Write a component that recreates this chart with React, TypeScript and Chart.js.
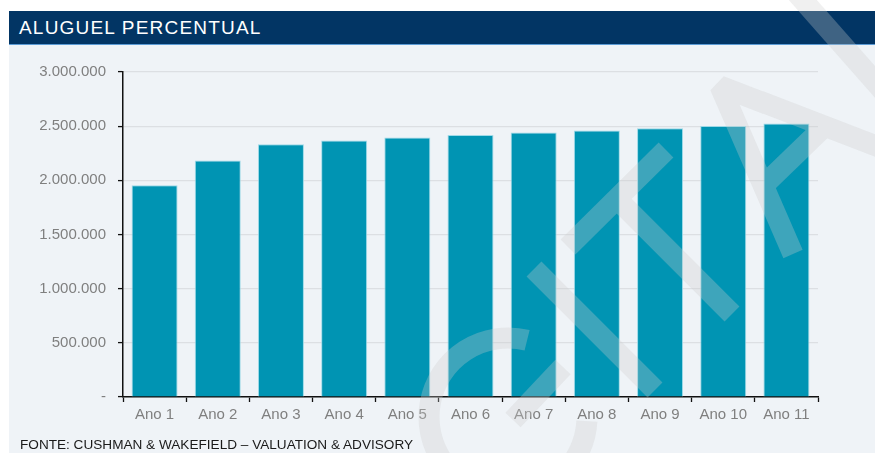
import React, { useEffect, useRef } from 'react';
import { Chart, registerables } from 'chart.js';

Chart.register(...registerables);

const title = 'ALUGUEL PERCENTUAL';
const source = 'FONTE: CUSHMAN & WAKEFIELD \u2013 VALUATION & ADVISORY';
const categories = ['Ano 1', 'Ano 2', 'Ano 3', 'Ano 4', 'Ano 5', 'Ano 6', 'Ano 7', 'Ano 8', 'Ano 9', 'Ano 10', 'Ano 11'];
const values = [1954000, 2182000, 2333000, 2367000, 2395000, 2418000, 2441000, 2459000, 2480000, 2502000, 2524000];
const yMin = 0;
const yMax = 3000000;
const yStep = 500000;

const FONT = "'Liberation Sans', Arial, Helvetica, sans-serif";

function formatTick(v: number): string {
  if (v === 0) return '-';
  return Math.round(v)
    .toString()
    .replace(/\B(?=(\d{3})+(?!\d))/g, '.');
}

export default function App() {
  const canvasRef = useRef<HTMLCanvasElement | null>(null);

  useEffect(() => {
    const canvas = canvasRef.current;
    if (!canvas) return;
    const chart = new Chart(canvas, {
      type: 'bar',
      data: {
        labels: categories,
        datasets: [
          {
            data: values,
            backgroundColor: '#0094b3',
            borderColor: 'rgba(150,215,230,0.9)',
            borderWidth: 1,
            categoryPercentage: 1,
            barPercentage: 0.728,
          },
        ],
      },
      options: {
        responsive: false,
        animation: false,
        devicePixelRatio: 1,
        layout: { padding: { left: 0, right: 57, top: 27, bottom: 0 } },
        plugins: {
          legend: { display: false },
          tooltip: { enabled: false },
          title: { display: false },
        },
        scales: {
          x: {
            afterFit: (s: any) => {
              s.height = 48;
            },
            grid: {
              offset: true,
              drawOnChartArea: false,
              tickLength: 5,
              tickColor: '#111',
              tickWidth: 1.3,
            },
            border: { display: true, color: '#111', width: 1.5 },
            ticks: {
              color: '#7f7f7f',
              font: { family: FONT, size: 15 },
              padding: 4,
              maxRotation: 0,
              autoSkip: false,
            },
          },
          y: {
            min: yMin,
            max: yMax,
            afterFit: (s: any) => {
              s.width = 114;
            },
            grid: {
              color: '#dcdfe3',
              lineWidth: 1.2,
              tickLength: 5,
              tickColor: '#111',
              tickWidth: 1.3,
            },
            border: { display: true, color: '#111', width: 1.5 },
            ticks: {
              stepSize: yStep,
              color: '#7f7f7f',
              font: { family: FONT, size: 15 },
              padding: 12,
              callback: (v: any) => formatTick(Number(v)),
            },
          },
        },
      },
    });
    return () => chart.destroy();
  }, []);

  const wm = { stroke: '#cdcdcd', strokeWidth: 21, fill: 'none' };

  return (
    <div
      style={{
        position: 'absolute',
        left: 0,
        top: 0,
        width: 875,
        height: 453,
        background: '#ffffff',
        overflow: 'hidden',
        fontFamily: FONT,
      }}
    >
      <div
        style={{
          position: 'absolute',
          left: 9,
          top: 11,
          width: 866,
          height: 33,
          background: '#023564',
          borderBottom: '1px solid #5b9bd5',
          color: '#ffffff',
          fontSize: 19,
          letterSpacing: '1.2px',
          lineHeight: '34px',
          paddingLeft: 10,
          boxSizing: 'content-box',
          whiteSpace: 'nowrap',
          overflow: 'hidden',
        }}
      >
        {title}
      </div>
      <div
        style={{
          position: 'absolute',
          left: 9,
          top: 45,
          width: 866,
          height: 408,
          background: '#eff3f7',
        }}
      >
        <canvas
          ref={canvasRef}
          width={866}
          height={400}
          style={{ position: 'absolute', left: 0, top: 0, width: 866, height: 400 }}
        />
        <div
          style={{
            position: 'absolute',
            left: 11,
            top: 392,
            fontSize: 13.6,
            lineHeight: '16px',
            color: '#1a1a1a',
            whiteSpace: 'nowrap',
          }}
        >
          {source}
        </div>
      </div>
      <svg
        width={875}
        height={453}
        style={{ position: 'absolute', left: 0, top: 0, pointerEvents: 'none' }}
      >
        <g opacity={0.3}>
          <path d="M 794 -10 L 905 116" {...wm} />
          <path d="M 793 254 L 720 86 L 905 157" {...wm} strokeLinejoin="bevel" />
          <path d="M 763 186 L 827 124" {...wm} />
          <path d="M 666 150 L 568 247" {...wm} />
          <path d="M 617 199 L 732 314" {...wm} />
          <path d="M 534 269 L 655 390" {...wm} />
          <path d="M 513 420 L 563 367" {...wm} />
          <path d="M 527.1 340.3 A 79 79 0 1 0 586.9 421.1" {...wm} />
        </g>
      </svg>
    </div>
  );
}
